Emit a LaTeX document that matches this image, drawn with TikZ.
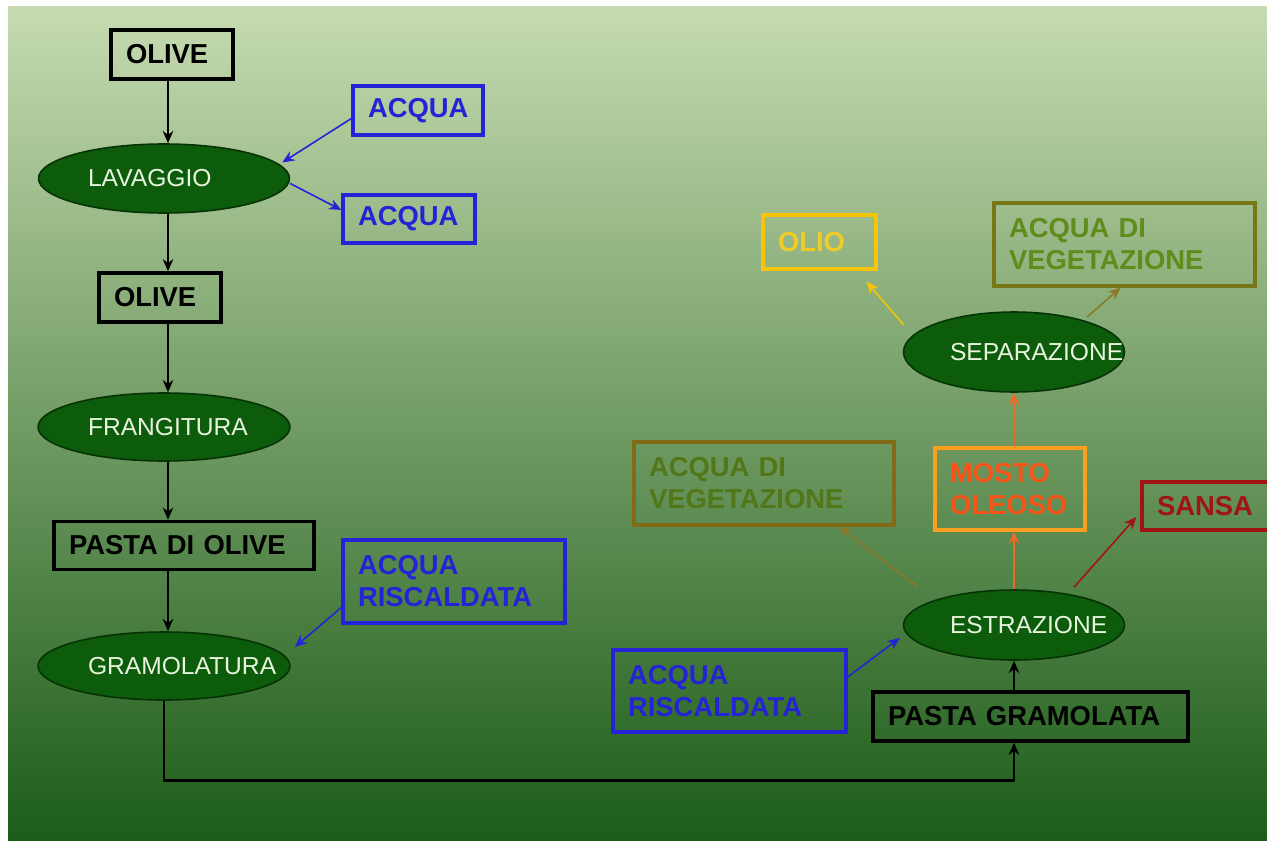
\documentclass[tikz,border=0pt]{standalone}
\usepackage{fontspec}
\setmainfont{Liberation Sans}
\usetikzlibrary{arrows.meta,shapes.geometric}
\definecolor{bgtop}{RGB}{198,219,176}
\definecolor{bgmid}{RGB}{112,158,74}
\definecolor{bgbot}{RGB}{28,92,24}
\definecolor{ellfill}{RGB}{12,92,12}
\definecolor{ellborder}{RGB}{6,50,6}
\definecolor{elltext}{RGB}{232,244,222}
\definecolor{acquablue}{RGB}{36,36,214}
\definecolor{vegborder}{RGB}{120,118,22}
\definecolor{veglborder}{RGB}{130,106,22}
\definecolor{vegtext}{RGB}{96,140,28}
\definecolor{vegline}{RGB}{140,120,40}
\definecolor{mostoborder}{RGB}{250,160,30}
\definecolor{mostotext}{RGB}{248,84,24}
\definecolor{mostoline}{RGB}{238,104,40}
\definecolor{sansared}{RGB}{160,20,20}
\definecolor{olioborder}{RGB}{248,196,10}
\definecolor{oliotext}{RGB}{240,204,40}

\begin{document}
\begin{tikzpicture}[x=0.02cm,y=-0.02cm,>={Stealth[length=7pt,width=6pt]}]
\tikzstyle{box}=[draw,line width=1.9pt,align=left,inner xsep=0.3cm,inner ysep=0pt,font=\fontsize{15.6}{18.2}\selectfont\bfseries]
\tikzstyle{phase}=[ellipse,draw=ellborder,line width=0.9pt,fill=ellfill,text=elltext,inner sep=0pt,align=left,font=\fontsize{14}{16}\selectfont]
\tikzstyle{link}=[->,line width=0.9pt]
\useasboundingbox (0,0) rectangle (1267,841);
\clip (0,0) rectangle (1267,841);
\fill[top color=bgtop,middle color=bgmid,bottom color=bgbot] (8,7) rectangle (1267,841);
% left column
\node[box,text width=1.84cm,minimum height=0.98cm] (olive1) at (172,54.5) {OLIVE};
\node[phase,minimum width=5.02cm,minimum height=1.38cm,text width=3.04cm] (lav) at (164,178.5) {LAVAGGIO};
\node[box,draw=acquablue,text=acquablue,text width=2.0cm,minimum height=0.98cm] (acqua1) at (418,110.5) {ACQUA};
\node[box,draw=acquablue,text=acquablue,text width=2.04cm,minimum height=0.96cm] (acqua2) at (409,219) {ACQUA};
\node[box,text width=1.84cm,minimum height=0.98cm] (olive2) at (160,297.5) {OLIVE};
\node[phase,minimum width=5.04cm,minimum height=1.36cm,text width=3.04cm] (fran) at (164,427) {FRANGITURA};
\node[box,text width=4.6cm,minimum height=0.96cm] (pasta) at (184,545.5) {PASTA DI OLIVE};
\node[box,draw=acquablue,text=acquablue,text width=3.84cm,minimum height=1.66cm] (riscL) at (454,581.5) {ACQUA\\RISCALDATA};
\node[phase,minimum width=5.04cm,minimum height=1.36cm,text width=3.04cm] (gram) at (164,666) {GRAMOLATURA};
% right column
\node[box,text width=5.7cm,minimum height=0.98cm] (pastagr) at (1030.5,716.5) {PASTA GRAMOLATA};
\node[phase,minimum width=4.42cm,minimum height=1.4cm,text width=2.56cm] (estr) at (1014,625) {ESTRAZIONE};
\node[box,draw=acquablue,text=acquablue,text width=4.06cm,minimum height=1.64cm] (riscR) at (729.5,691) {ACQUA\\RISCALDATA};
\node[box,draw=veglborder,text=vegtext!85!black,text width=4.6cm,minimum height=1.66cm] (vegL) at (764,483.5) {ACQUA DI\\VEGETAZIONE};
\node[box,draw=mostoborder,text=mostotext,text width=2.4cm,minimum height=1.64cm] (mosto) at (1010,489) {MOSTO\\OLEOSO};
\node[box,draw=sansared,text=sansared,text width=2.0cm,minimum height=0.96cm] (sansa) at (1207,506) {SANSA};
\node[phase,minimum width=4.42cm,minimum height=1.6cm,text width=2.56cm] (sep) at (1014,352) {SEPARAZIONE};
\node[box,draw=olioborder,text=oliotext,text width=1.66cm,minimum height=1.08cm] (olio) at (819.5,242) {OLIO};
\node[box,draw=vegborder,text=vegtext,text width=4.62cm,minimum height=1.66cm] (vegU) at (1124.5,244.5) {ACQUA DI\\VEGETAZIONE};
% connectors
\draw[link] ([xshift=0.08cm]olive1.south -| lav.north) -- ([xshift=0.08cm]lav.north);
\draw[link] ([xshift=0.08cm]lav.south) -- ([xshift=0.08cm]lav.south |- olive2.north);
\draw[link] ([xshift=0.08cm]olive2.south -| fran.north) -- ([xshift=0.08cm]fran.north);
\draw[link] ([xshift=0.08cm]fran.south) -- ([xshift=0.08cm]fran.south |- pasta.north);
\draw[link] ([xshift=0.08cm]pasta.south -| gram.north) -- ([xshift=0.08cm]gram.north);
\draw[link,acquablue] ([shift={(0,8)}]acqua1.west) -- ([shift={(-8,-16)}]lav.east);
\draw[link,acquablue] ([shift={(0,5)}]lav.east) -- ([shift={(0,-9)}]acqua2.west);
\draw[link,acquablue] ([shift={(0,26)}]riscL.west) -- ([shift={(4,-19)}]gram.east);
\draw[link,line width=1.5pt] (gram.south) -- ++(0,80) -| (estr.south |- pastagr.south);
\draw[link] (estr.south |- pastagr.north) -- (estr.south);
\draw[link,acquablue] ([shift={(0,-14)}]riscR.east) -- ([shift={(-3,13)}]estr.west);
\draw[link,vegline] ([shift={(-97,-3)}]estr.north) -- ([shift={(75,0)}]vegL.south);
\draw[link,mostoline] (estr.north) -- (estr.north |- mosto.south);
\draw[link,sansared] ([shift={(60,-2)}]estr.north) -- ([shift={(-4,11)}]sansa.west);
\draw[link,mostoline] (sep.south |- mosto.north) -- (sep.south);
\draw[link,olioborder] ([shift={(1,-27)}]sep.west) -- ([shift={(47,11)}]olio.south);
\draw[link,vegline] ([shift={(73,6)}]sep.north) -- ([shift={(-4,0)}]vegU.south);
\end{tikzpicture}
\end{document}
